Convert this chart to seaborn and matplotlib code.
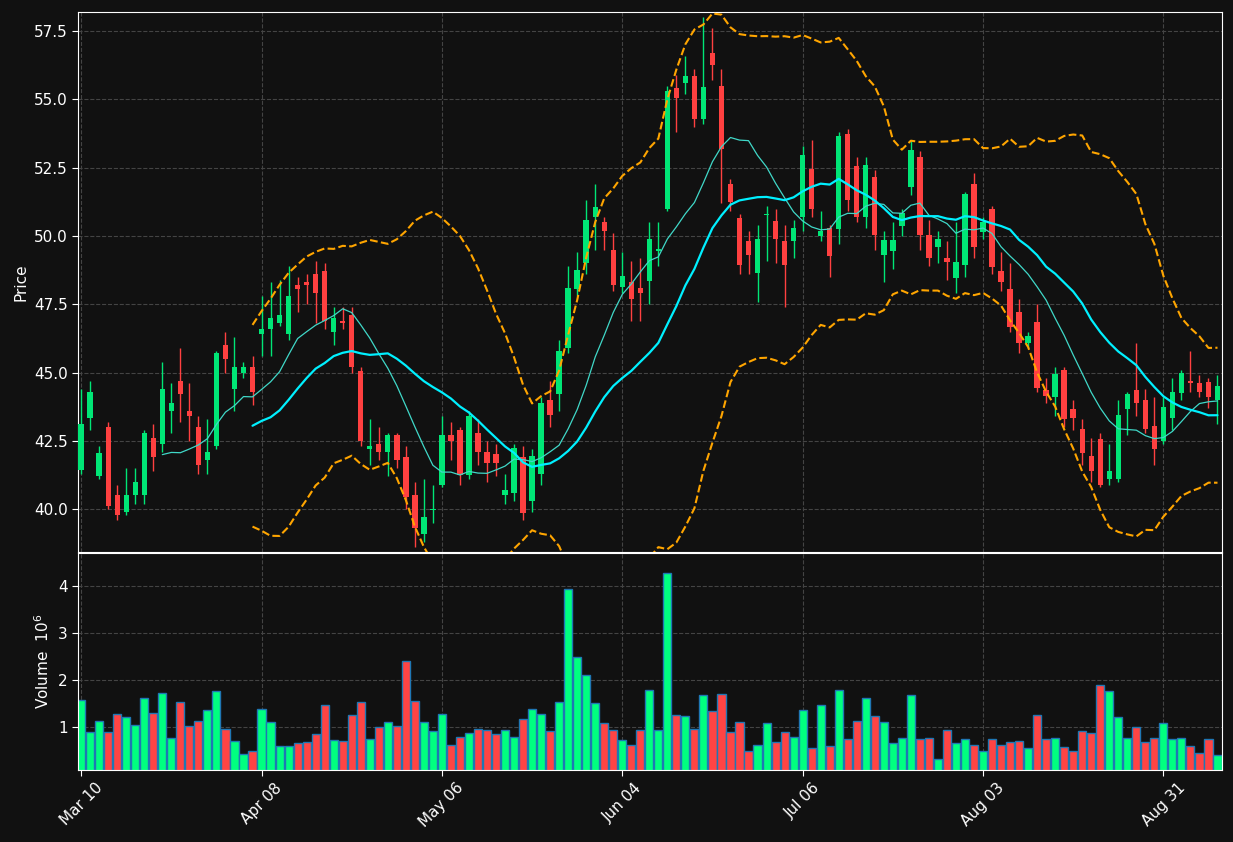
import numpy as np
import pandas as pd
import matplotlib
matplotlib.use("Agg")
import matplotlib.pyplot as plt
import seaborn as sns

opens = [41.45, 43.35, 41.2, 43.0, 40.5, 39.9, 40.5, 40.5, 42.6, 42.4, 43.6, 44.7, 43.6, 43.0, 41.8, 42.3,
         46.0, 44.4, 45.0, 45.2, 46.4, 46.6, 46.8, 46.4, 48.2, 48.3, 48.6, 48.7, 46.5, 46.9, 47.1, 45.05,
         42.2, 42.4, 42.1, 42.7, 41.9, 40.5, 39.1, 39.95, 40.9, 42.7, 42.9, 41.25, 42.8, 42.1, 42.0, 40.5,
         40.6, 41.9, 40.3, 41.3, 44.0, 44.2, 45.9, 48.05, 49.0, 50.7, 50.5, 49.5, 48.15, 48.3, 48.1, 48.35,
         49.45, 51.0, 55.4, 55.6, 55.85, 54.3, 56.7, 55.5, 51.9, 50.65, 49.8, 48.65, 50.75, 50.55, 49.8, 49.8,
         50.7, 52.45, 50.0, 50.3, 50.25, 53.75, 52.55, 50.7, 52.15, 49.3, 49.45, 50.35, 51.8, 52.9, 50.05, 49.6,
         49.2, 48.45, 48.95, 51.9, 50.15, 51.0, 48.7, 48.05, 47.2, 46.1, 46.85, 44.35, 44.1, 45.1, 43.65, 42.95,
         41.95, 42.55, 41.1, 41.1, 43.65, 44.35, 44.0, 43.05, 42.5, 43.35, 44.25, 44.7, 44.6, 44.65, 44.0]
closes = [43.1, 44.3, 42.05, 40.1, 39.8, 40.5, 41.0, 42.8, 41.9, 44.4, 43.9, 44.2, 43.4, 41.6, 42.1, 45.7,
          45.5, 45.2, 45.2, 44.3, 46.6, 47.0, 47.1, 47.8, 48.05, 48.2, 47.9, 46.9, 47.0, 46.8, 45.2, 42.5,
          42.3, 42.1, 42.7, 41.8, 40.45, 39.3, 39.7, 40.0, 42.7, 42.5, 41.25, 43.4, 42.1, 41.7, 41.7, 40.7,
          42.25, 39.85, 41.95, 43.9, 43.45, 45.8, 48.1, 48.75, 50.6, 51.05, 50.2, 48.2, 48.55, 47.7, 47.9, 49.9,
          49.5, 55.3, 55.05, 55.85, 54.3, 55.45, 56.25, 53.2, 51.25, 48.95, 49.3, 49.9, 50.8, 49.9, 48.95, 50.3,
          52.95, 51.0, 50.2, 49.25, 53.65, 51.3, 50.7, 52.6, 50.05, 49.85, 49.85, 50.85, 53.15, 50.05, 49.2, 49.9,
          49.05, 49.05, 51.55, 49.6, 50.5, 48.85, 48.3, 46.65, 46.1, 46.35, 44.45, 44.15, 44.95, 43.3, 43.35, 42.05,
          41.4, 40.9, 41.4, 43.45, 44.2, 43.9, 42.95, 42.2, 43.75, 44.3, 45.0, 44.6, 44.3, 44.1, 44.5]
highs = [44.4, 44.7, 42.3, 43.2, 40.9, 41.5, 41.5, 42.9, 43.1, 45.4, 44.6, 45.9, 44.6, 43.4, 43.3, 45.8,
         46.5, 46.3, 45.4, 45.6, 47.8, 48.3, 48.4, 48.9, 48.5, 48.6, 49.1, 49.0, 47.4, 47.4, 47.4, 45.2,
         43.3, 43.0, 42.8, 42.8, 42.3, 41.0, 41.1, 40.9, 43.4, 43.2, 43.0, 43.6, 43.3, 42.5, 42.4, 41.3,
         42.4, 42.3, 42.2, 44.1, 44.7, 46.2, 48.9, 49.4, 51.3, 51.9, 50.7, 50.1, 49.4, 49.1, 49.2, 50.5,
         50.5, 55.5, 55.9, 56.6, 56.1, 58.0, 57.6, 56.1, 52.1, 50.8, 50.2, 50.4, 51.1, 51.0, 50.4, 50.6,
         53.3, 53.5, 50.9, 50.4, 53.8, 53.9, 52.9, 52.9, 52.4, 50.2, 50.5, 51.0, 53.5, 53.1, 50.6, 50.2,
         49.8, 50.5, 51.6, 52.3, 50.7, 51.1, 49.4, 49.0, 47.7, 46.5, 47.5, 44.8, 45.2, 45.2, 44.0, 43.3,
         42.6, 42.8, 42.4, 44.0, 44.3, 46.1, 44.4, 44.1, 44.1, 44.8, 45.1, 45.8, 44.9, 44.8, 44.9]
lows = [41.3, 42.9, 41.1, 40.0, 39.6, 39.8, 40.2, 40.2, 41.4, 42.1, 42.8, 43.2, 42.5, 41.3, 41.3, 42.2,
        45.0, 43.6, 44.8, 43.8, 45.6, 45.6, 46.7, 46.2, 47.2, 47.5, 46.8, 46.6, 46.0, 46.6, 45.0, 42.3,
        41.6, 41.8, 41.2, 41.5, 40.0, 38.6, 38.8, 39.5, 40.8, 41.8, 40.9, 41.1, 41.6, 41.0, 41.2, 40.2,
        40.3, 39.6, 39.9, 40.9, 43.0, 43.6, 45.7, 47.8, 48.6, 49.5, 49.5, 48.0, 47.9, 46.9, 46.9, 47.5,
        48.9, 50.9, 53.8, 55.2, 54.0, 54.1, 55.7, 51.2, 50.9, 48.6, 48.6, 47.6, 49.1, 49.0, 47.4, 49.2,
        50.2, 50.7, 49.8, 48.5, 49.7, 50.9, 50.5, 50.3, 49.5, 48.3, 48.8, 50.0, 51.5, 49.5, 48.9, 49.0,
        48.4, 47.9, 48.5, 49.2, 49.9, 48.6, 48.0, 46.5, 45.7, 45.9, 44.3, 43.9, 43.4, 43.0, 42.9, 41.6,
        41.0, 40.8, 40.9, 41.0, 42.7, 43.4, 42.8, 41.6, 42.4, 42.9, 44.0, 44.3, 44.1, 43.7, 43.1]
volumes = [1.57, 0.89, 1.14, 0.89, 1.27, 1.21, 1.04, 1.63, 1.31, 1.72, 0.76, 1.53, 1.02, 1.14, 1.36, 1.76,
           0.97, 0.70, 0.42, 0.49, 1.38, 1.10, 0.59, 0.61, 0.66, 0.68, 0.85, 1.48, 0.72, 0.70, 1.25, 1.53,
           0.74, 1.00, 1.12, 1.02, 2.40, 1.55, 1.12, 0.91, 1.29, 0.63, 0.80, 0.87, 0.97, 0.95, 0.85, 0.93,
           0.80, 1.17, 1.38, 1.27, 0.91, 1.53, 3.93, 2.50, 2.10, 1.51, 1.08, 0.95, 0.72, 0.63, 0.95, 1.78,
           0.95, 4.27, 1.25, 1.23, 0.97, 1.68, 1.34, 1.70, 0.89, 1.12, 0.49, 0.63, 1.08, 0.68, 0.89, 0.80,
           1.36, 0.55, 1.48, 0.59, 1.80, 0.74, 1.14, 1.61, 1.23, 1.10, 0.66, 0.76, 1.68, 0.74, 0.76, 0.32,
           0.93, 0.66, 0.74, 0.63, 0.49, 0.74, 0.63, 0.68, 0.70, 0.55, 1.25, 0.74, 0.78, 0.57, 0.49, 0.91,
           0.87, 1.89, 1.76, 1.21, 0.78, 1.00, 0.68, 0.76, 1.08, 0.74, 0.78, 0.59, 0.46, 0.74, 0.40]
tick_labels = ["Mar 10", "Apr 08", "May 06", "Jun 04", "Jul 06", "Aug 03", "Aug 31"]

df = pd.DataFrame({"open": opens, "high": highs, "low": lows, "close": closes, "volume": volumes})
df["idx"] = np.arange(len(df))
df["ma10"] = df["close"].rolling(10).mean()
df["ma20"] = df["close"].rolling(20).mean()
std20 = df["close"].rolling(20).std()
df["upper"] = df["ma20"] + 2 * std20
df["lower"] = df["ma20"] - 2 * std20
up = df["close"] >= df["open"]

BG = "#111111"
sns.set_style("dark", {"axes.facecolor": BG, "figure.facecolor": BG})
plt.rcParams["font.family"] = ["DejaVu Sans"]

fig = plt.figure(figsize=(12.33, 8.42), dpi=100)
ax = fig.add_axes([78 / 1233, 1 - 552 / 842, 1144 / 1233, 540 / 842])
axv = fig.add_axes([78 / 1233, 1 - 770 / 842, 1144 / 1233, 217 / 842], sharex=ax)

candle_up, candle_dn = "#00e676", "#ff4040"
colors = np.where(up, candle_up, candle_dn)

# candles: wicks then bodies
ax.vlines(df["idx"], df["low"], df["high"], colors=colors, linewidth=1, zorder=2)
bottoms = np.minimum(df["open"], df["close"])
heights = np.maximum((df["close"] - df["open"]).abs(), 0.06)
ax.bar(df["idx"], heights, bottom=bottoms, width=0.6, color=colors, edgecolor=colors,
       linewidth=0, zorder=3)

sns.lineplot(data=df, x="idx", y="ma10", ax=ax, color="#40d8c8", linewidth=0.9, zorder=4)
sns.lineplot(data=df, x="idx", y="ma20", ax=ax, color="#00f0ff", linewidth=1.6, zorder=4)
sns.lineplot(data=df, x="idx", y="upper", ax=ax, color="#ffa500", linewidth=1.5, linestyle="--", zorder=4)
sns.lineplot(data=df, x="idx", y="lower", ax=ax, color="#ffa500", linewidth=1.5, linestyle="--", zorder=4)

vcolors = np.where(up, "#00ff80", "#ff4444")
axv.bar(df["idx"], df["volume"], width=0.9, color=vcolors, edgecolor="#1f77b4", linewidth=1)

ax.set_ylim(38.43, 58.2)
ax.set_xlim(-0.35, 126.5)
axv.set_ylim(0.09, 4.7)
ticks = np.arange(0, 121, 20)
ax.set_xticks(ticks)
axv.set_xticks(ticks)
axv.set_xticklabels(tick_labels, rotation=45, ha="center")
ax.tick_params(axis="x", labelbottom=False, length=0)
axv.set_yticks([1, 2, 3, 4])
ax.set_yticks([40, 42.5, 45, 47.5, 50, 52.5, 55, 57.5])
ax.set_yticklabels(["40.0", "42.5", "45.0", "47.5", "50.0", "52.5", "55.0", "57.5"])

for a in (ax, axv):
    a.set_facecolor(BG)
    a.grid(True, color="#444444", linestyle="--", linewidth=0.8)
    a.tick_params(colors="white", labelsize=11, left=True, bottom=True, length=4)
    for s in a.spines.values():
        s.set_color("white")
        s.set_visible(True)
    a.set_xlabel("")
ax.set_ylabel("Price", color="white", fontsize=11)
axv.set_ylabel("Volume  $10^{6}$", color="white", fontsize=11)

fig.savefig("out.png", dpi=100, facecolor=BG)
